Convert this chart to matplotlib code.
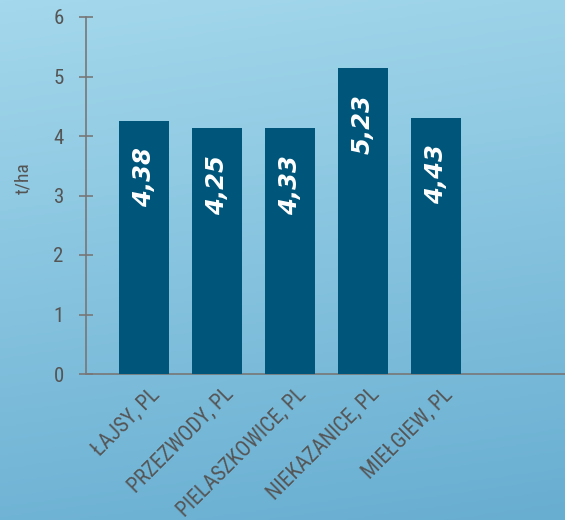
import numpy as np
import matplotlib.pyplot as plt
import matplotlib.transforms as mtransforms
from matplotlib import font_manager as fm
from matplotlib.colors import LinearSegmentedColormap

sites = ['ŁAJSY, PL', 'PRZEZWODY, PL', 'PIELASZKOWICE, PL', 'NIEKAZANICE, PL', 'MIEŁGIEW, PL']
yields = [4.25, 4.13, 4.13, 5.14, 4.30]
value_labels = ['4,38', '4,25', '4,33', '5,23', '4,43']
yticks = [0, 1, 2, 3, 4, 5, 6]

# look for a narrow font
fonts = fm.fontManager.ttflist
names = {f.name for f in fonts}
narrow = None
for n in ['Liberation Sans Narrow', 'Roboto Condensed', 'Open Sans Condensed', 'DejaVu Sans Condensed']:
    if n in names:
        narrow = (n, 'normal')
        break
if narrow is None:
    for f in fonts:
        if str(f.stretch) in ('condensed', 'semi-condensed', 'extra-condensed', '75', '87.5') and 'Mono' not in f.name:
            narrow = (f.name, 'condensed')
            break
if narrow is None:
    narrow = ('DejaVu Sans', 'normal')
plt.rcParams['font.family'] = [narrow[0], 'DejaVu Sans']
plt.rcParams['font.stretch'] = narrow[1]

fig = plt.figure(figsize=(5.65, 5.2), dpi=100)

# background gradient
bg = fig.add_axes([0, 0, 1, 1], zorder=-1)
cmap = LinearSegmentedColormap.from_list('bg', ['#a4d8ec', '#68aed1'])
grad = np.linspace(0, 1, 256).reshape(-1, 1)
xg = np.linspace(0, 0.15, 64).reshape(1, -1)
bg.imshow(grad + xg, aspect='auto', cmap=cmap, extent=[0, 1, 0, 1], vmin=0, vmax=1.15)
bg.axis('off')

ax = fig.add_axes([86 / 565, 146 / 520, 1 - 86 / 565, 357 / 520])
ax.patch.set_alpha(0)
x = np.arange(len(sites))
bars = ax.bar(x, yields, width=0.68, color='#00567a', zorder=3)
ax.set_xlim(-0.79, 5.77)
ax.set_ylim(0, 6)

for b, lab in zip(bars, value_labels):
    ax.annotate(lab, (b.get_x() + b.get_width() / 2, b.get_height()),
                xytext=(0, -19), textcoords='offset points',
                rotation=90, ha='center', va='top', color='white',
                fontsize=17.5, fontweight='bold', fontstyle='italic',
                family='DejaVu Sans', fontstretch='normal', zorder=4)

for s in ['top', 'right']:
    ax.spines[s].set_visible(False)
ax.spines['left'].set_color('#777777')
ax.spines['bottom'].set_color('#777777')
ax.spines['left'].set_linewidth(1.2)
ax.spines['bottom'].set_linewidth(1.2)

ax.set_yticks(yticks)
ax.set_yticklabels([str(t) for t in yticks])
ax.tick_params(axis='y', direction='inout', length=10, width=1.2, color='#777777',
               labelcolor='#555555', labelsize=15, pad=11)
ax.set_ylabel('t/ha', color='#555555', fontsize=14)
ax.yaxis.set_label_coords(-0.113, 0.55)

ax.set_xticks(x)
ax.set_xticklabels(sites, rotation=45, ha='right', rotation_mode='anchor',
                   color='#555555', fontsize=15.5)
ax.tick_params(axis='x', length=0, pad=7)
offset = mtransforms.ScaledTranslation(6 / 100, 0, fig.dpi_scale_trans)
for lbl in ax.get_xticklabels():
    lbl.set_transform(lbl.get_transform() + offset)

fig.savefig('out.png', dpi=100)
